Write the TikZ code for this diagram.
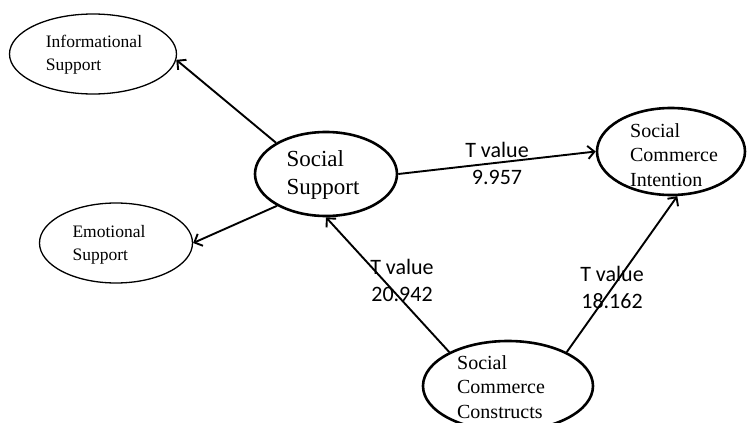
\documentclass[tikz,border=0pt]{standalone}
\usepackage{fontspec}
\setmainfont{Liberation Serif}
\newfontfamily\labelfont{Carlito}
\usetikzlibrary{shapes.geometric,arrows.meta}
\begin{document}
\begin{tikzpicture}[x=1pt,y=-1pt,
  minor/.style={ellipse, draw, line width=1.3pt, inner sep=0pt},
  major/.style={ellipse, draw, line width=2.6pt, inner sep=0pt},
  txt/.style={align=left, inner sep=0pt},
  link/.style={line width=1.9pt, -{Straight Barb[length=6.5pt,width=13pt]}},
  tval/.style={align=center, inner sep=0pt, font=\labelfont\fontsize{22}{27}\selectfont}]
\useasboundingbox (0,0) rectangle (748,423);

% construct ellipses
\node[minor, minimum width=167pt, minimum height=80pt] (info) at (93,54) {};
\node[minor, minimum width=153pt, minimum height=80pt] (emo) at (116,243) {};
\node[major, minimum width=142pt, minimum height=84pt] (ss) at (326,174) {};
\node[major, minimum width=148pt, minimum height=87pt] (sci) at (671,151.5) {};
\node[major, minimum width=170pt, minimum height=90pt] (scc) at (508,386) {};

% construct names
\node[txt, font=\fontsize{17.5}{23}\selectfont] (info-t) at (94,55) {Informational\\Support};
\node[txt, font=\fontsize{17.5}{23}\selectfont] (emo-t) at (109,245) {Emotional\\Support};
\node[txt, font=\fontsize{23}{28}\selectfont] (ss-t) at (323,175) {Social\\Support};
\node[txt, font=\fontsize{20}{24.5}\selectfont] (sci-t) at (674,155) {Social\\Commerce\\Intention};
\node[txt, font=\fontsize{20}{24.5}\selectfont] (scc-t) at (501,387) {Social\\Commerce\\Constructs};

% paths
\draw[link] (ss.148) -- (info.-4);
\draw[link] (ss.213) -- (emo.east);
\draw[link] (ss.east) -- (sci.west);
\draw[link] (scc.150) -- (ss.south);
\draw[link] (scc.30) -- (sci.-82);

% path coefficients
\node[tval] (t1) at (497,163.5) {T value\\9.957};
\node[tval] (t2) at (402,280) {T value\\20.942};
\node[tval] (t3) at (612,287) {T value\\18.162};
\end{tikzpicture}
\end{document}
